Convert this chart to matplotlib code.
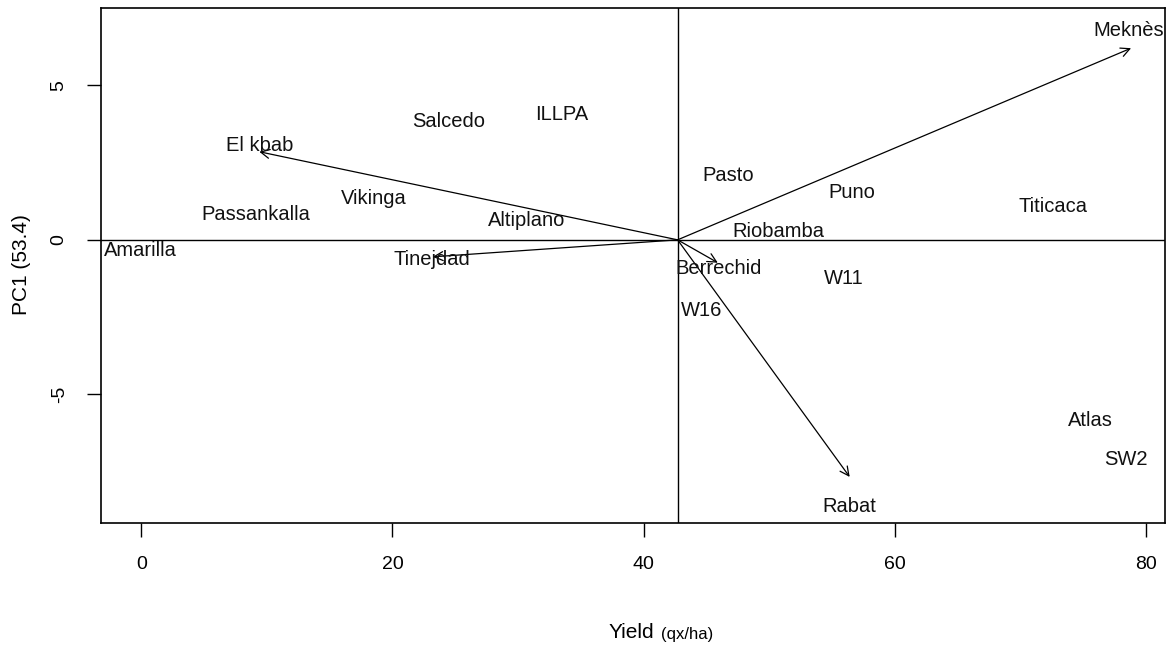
import matplotlib
matplotlib.use("Agg")
import matplotlib.pyplot as plt
from matplotlib import font_manager

names = ["Meknès", "El kbab", "Salcedo", "ILLPA", "Pasto", "Puno", "Titicaca",
         "Vikinga", "Passankalla", "Altiplano", "Riobamba", "Amarilla", "Tinejdad",
         "Berrechid", "W11", "W16", "Atlas", "SW2", "Rabat"]
label_x = [78.6, 9.4, 24.5, 33.5, 46.7, 56.6, 72.6, 18.5, 9.1, 30.7, 50.7, -0.1,
           23.1, 46.0, 55.9, 44.6, 75.6, 78.4, 56.4]
label_y = [6.76, 3.04, 3.82, 4.05, 2.07, 1.52, 1.07, 1.33, 0.81, 0.61, 0.26, -0.36,
           -0.65, -0.94, -1.26, -2.27, -5.83, -7.12, -8.64]

mean_yield = 42.7
arrow_names = ["Meknès", "El kbab", "Tinejdad", "Berrechid", "Rabat"]
arrow_x = [78.8, 9.4, 23.2, 45.9, 56.4]
arrow_y = [6.2, 2.85, -0.55, -0.74, -7.67]

xticks = [0, 20, 40, 60, 80]
yticks = [-5, 0, 5]

avail = {f.name for f in font_manager.fontManager.ttflist}
fam = "Liberation Sans Narrow" if "Liberation Sans Narrow" in avail else "Liberation Sans"
plt.rcParams['font.family'] = [fam, 'DejaVu Sans']

fig = plt.figure(figsize=(11.66, 6.48), dpi=100)
ax = fig.add_axes([101/1166, 1 - 523/648, (1165-101)/1166, (523-8)/648])
ax.set_xlim(-3.2, 81.5)
ax.set_ylim(-9.16, 7.5)

ax.axvline(mean_yield, color='black', lw=1.0)
ax.axhline(0, color='black', lw=1.0)

for x, y in zip(arrow_x, arrow_y):
    ax.annotate("", xy=(x, y), xytext=(mean_yield, 0),
                arrowprops=dict(arrowstyle='->', color='black', lw=0.9,
                                shrinkA=0, shrinkB=0, mutation_scale=16))

for n, x, y in zip(names, label_x, label_y):
    ax.text(x, y, n, ha='center', va='center', fontsize=14.5, color='#111111')

ax.set_xticks(xticks)
ax.set_yticks(yticks)
ax.set_xticklabels([str(t) for t in xticks], fontsize=14)
ax.set_yticklabels([str(t) for t in yticks], fontsize=14, rotation=90, va='center')
ax.tick_params(axis='both', length=10, width=1, direction='out', pad=14)
for s in ax.spines.values():
    s.set_linewidth(1.2)

fig.text(22/1166, 1 - 265/648, "PC1 (53.4)", rotation=90, ha='center', va='center', fontsize=15)
fig.text(654/1166, 1 - 633/648, "Yield", ha='right', va='center', fontsize=15)
fig.text(661/1166, 1 - 634/648, "(qx/ha)", ha='left', va='center', fontsize=12)

fig.savefig("out.png", dpi=100)
